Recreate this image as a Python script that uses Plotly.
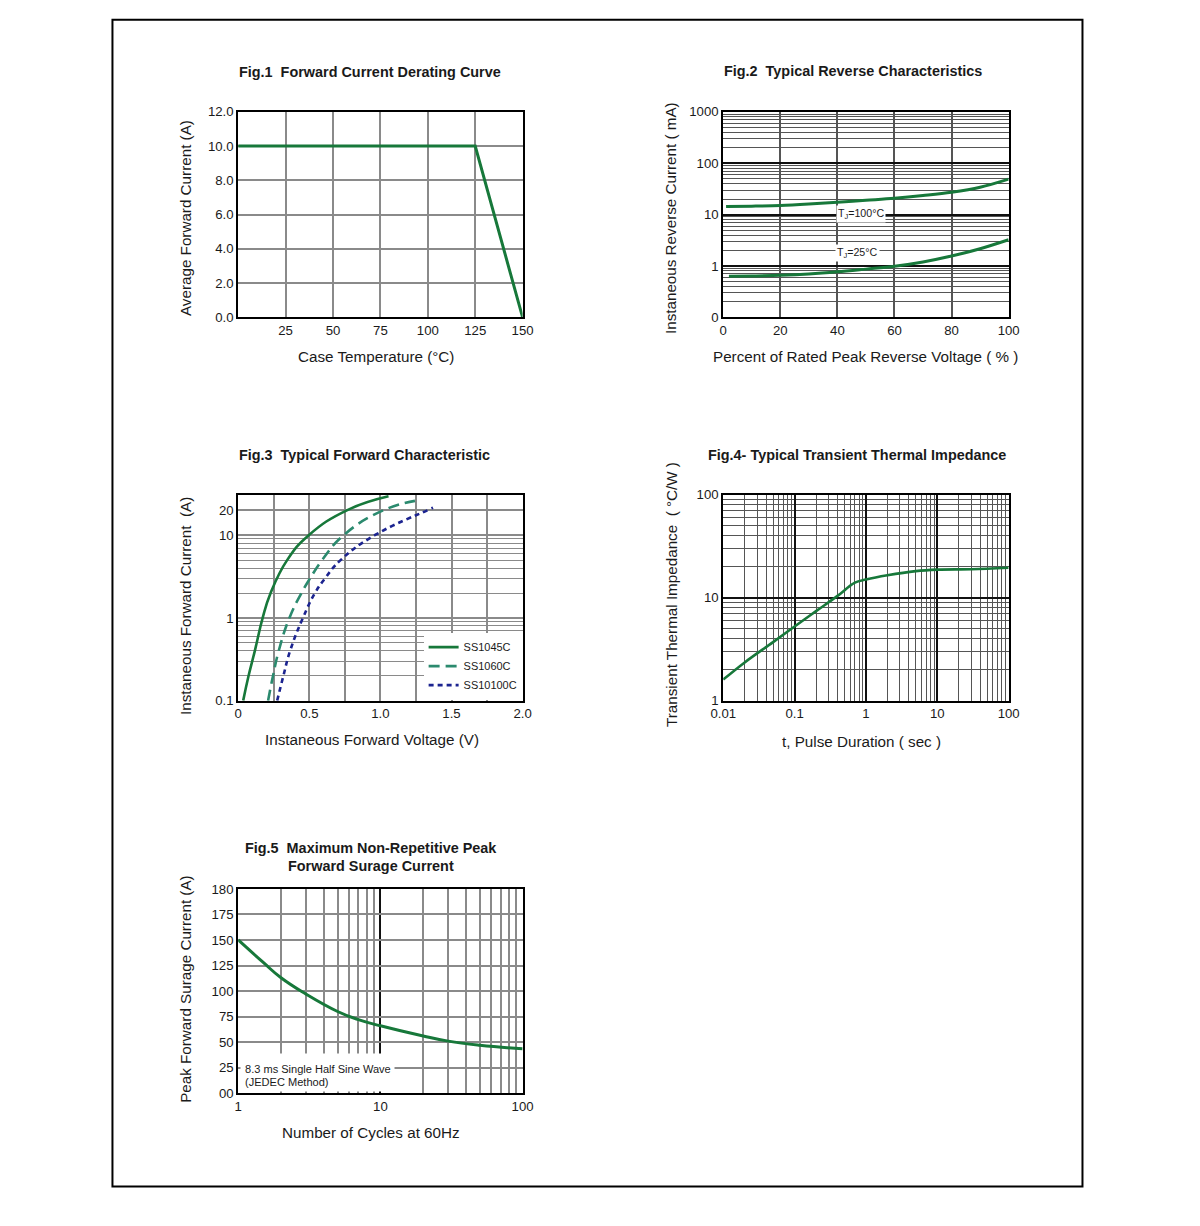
import plotly.graph_objects as go

FONT = "Liberation Sans, Arial, sans-serif"
GREEN = "#17783a"
TEAL = "#2b8a6e"
NAVY = "#1c2490"
TXT = "#1a1a1a"
GRID = "#8a8a8a"
DARKGRID = "#555555"

# ---------------- Fig.1 data ----------------
fig1_temp = [0, 125, 150]
fig1_current = [10.0, 10.0, 0.0]
fig1_xticks = [25, 50, 75, 100, 125, 150]
fig1_yticks = [0, 2, 4, 6, 8, 10, 12]
fig1_ylabels = ["0.0", "2.0", "4.0", "6.0", "8.0", "10.0", "12.0"]

# ---------------- Fig.2 data ----------------
fig2_pct_100 = [1, 10, 20, 30, 40, 50, 60, 70, 80, 90, 100]
fig2_ir_100c = [14.4, 14.6, 15.0, 16.0, 17.4, 19.0, 20.8, 23.5, 27.2, 34.0, 49.0]
fig2_pct_25 = [2, 10, 20, 30, 40, 50, 60, 70, 80, 90, 100]
fig2_ir_25c = [0.63, 0.64, 0.66, 0.70, 0.77, 0.87, 0.99, 1.20, 1.56, 2.17, 3.25]
fig2_xticks = [0, 20, 40, 60, 80, 100]
fig2_yticks = [0.1, 1, 10, 100, 1000]
fig2_ylabels = ["0", "1", "10", "100", "1000"]

# ---------------- Fig.3 data ----------------
fig3_i_1045 = [0.1, 0.2, 0.4, 1, 2, 5, 10, 20, 29.5]
fig3_v_1045 = [0.035, 0.073, 0.117, 0.172, 0.228, 0.344, 0.496, 0.764, 1.057]
fig3_i_1060 = [0.1, 0.2, 0.4, 1, 2, 3, 5, 10, 20, 26]
fig3_v_1060 = [0.21, 0.245, 0.285, 0.36, 0.445, 0.505, 0.59, 0.741, 1.02, 1.243]
fig3_i_10100 = [0.1, 0.2, 0.4, 1, 2, 3, 5, 10, 20, 21.5]
fig3_v_10100 = [0.274, 0.318, 0.365, 0.455, 0.54, 0.61, 0.72, 0.96, 1.33, 1.37]
fig3_xticks = [0, 0.5, 1.0, 1.5, 2.0]
fig3_xlabels = ["0", "0.5", "1.0", "1.5", "2.0"]
fig3_yticks = [0.1, 1, 10, 20]
fig3_ylabels = ["0.1", "1", "10", "20"]

# ---------------- Fig.4 data ----------------
fig4_t = [0.01, 0.02, 0.05, 0.1, 0.2, 0.4, 0.7, 1, 2, 5, 10, 30, 100]
fig4_z = [1.6, 2.35, 3.7, 5.25, 7.4, 10.4, 14.0, 15.0, 16.5, 18.1, 18.7, 18.9, 19.5]
fig4_xticks = [0.01, 0.1, 1, 10, 100]
fig4_xlabels = ["0.01", "0.1", "1", "10", "100"]
fig4_yticks = [1, 10, 100]

# ---------------- Fig.5 data ----------------
fig5_cycles = [1, 1.5, 2, 3, 5, 7, 10, 20, 30, 50, 100]
fig5_current = [150, 128, 113, 97, 80, 72, 66, 56, 51, 47, 43.5]
fig5_xticks = [1, 10, 100]
fig5_yticks = [0, 25, 50, 75, 100, 125, 150, 175, 200]
fig5_ylabels = ["00", "25", "50", "75", "100", "125", "150", "175", "180"]


def log_minor(decades):
    return [m * 10 ** d for d in decades for m in range(2, 10)]


W, H = 1200, 1226
# empirical mapping between layout pixels and the captured picture
SX, BX = 0.982, 11.5
SY, BY = 0.988, 6.3
OFF = 8
FS = 1 / 0.985  # font compensation for the slight capture scaling


def px2x(px):
    return ((px - BX) / SX - OFF) / W


def px2y(py):
    return 1 - ((py - BY) / SY - OFF) / H


def dx(px0, px1):
    return [px2x(px0), px2x(px1)]


def dy(py_top, py_bot):
    return [px2y(py_bot), px2y(py_top)]


fig = go.Figure()

fig.add_trace(go.Scatter(x=fig1_temp, y=fig1_current, mode="lines",
                         line=dict(color=GREEN, width=3), xaxis="x", yaxis="y",
                         showlegend=False))
fig.add_trace(go.Scatter(x=fig2_pct_100, y=fig2_ir_100c, mode="lines",
                         line=dict(color=GREEN, width=3, shape="spline"),
                         xaxis="x2", yaxis="y2", showlegend=False))
fig.add_trace(go.Scatter(x=fig2_pct_25, y=fig2_ir_25c, mode="lines",
                         line=dict(color=GREEN, width=3, shape="spline"),
                         xaxis="x2", yaxis="y2", showlegend=False))
fig.add_trace(go.Scatter(x=fig3_v_1045, y=fig3_i_1045, mode="lines", name="SS1045C",
                         line=dict(color=GREEN, width=2.6, shape="spline", smoothing=1.3),
                         xaxis="x3", yaxis="y3"))
fig.add_trace(go.Scatter(x=fig3_v_1060, y=fig3_i_1060, mode="lines", name="SS1060C",
                         line=dict(color=TEAL, width=2.6, dash="11px,6px", shape="spline",
                                   smoothing=1.3),
                         xaxis="x3", yaxis="y3"))
fig.add_trace(go.Scatter(x=fig3_v_10100, y=fig3_i_10100, mode="lines", name="SS10100C",
                         line=dict(color=NAVY, width=2.6, dash="5px,4px", shape="spline",
                                   smoothing=1.3),
                         xaxis="x3", yaxis="y3"))
fig.add_trace(go.Scatter(x=fig4_t, y=fig4_z, mode="lines",
                         line=dict(color=GREEN, width=2.6, shape="spline"),
                         xaxis="x4", yaxis="y4", showlegend=False))
fig.add_trace(go.Scatter(x=fig5_cycles, y=fig5_current, mode="lines",
                         line=dict(color=GREEN, width=3, shape="spline", smoothing=1.3),
                         xaxis="x5", yaxis="y5", showlegend=False))

tickfont = dict(family=FONT, size=13 * FS, color=TXT)
frame = dict(showline=True, linecolor="black", linewidth=2, mirror=True,
             ticks="", zeroline=False, tickfont=tickfont, fixedrange=True)

left_x = dx(237, 522)
right_x = dx(723, 1009)
row1_y = dy(111, 316.7)
row2_y = dy(494, 700)
row3_y = dy(888.3, 1092.7)

fig.update_layout(
    width=W, height=H, margin=dict(l=0, r=0, t=0, b=0),
    paper_bgcolor="white", plot_bgcolor="white",
    font=dict(family=FONT, color=TXT),
    # Fig.1
    xaxis=dict(domain=left_x, anchor="y", range=[0, 150], tickvals=fig1_xticks,
               showgrid=True, gridcolor=GRID, gridwidth=2, **frame),
    yaxis=dict(domain=row1_y, anchor="x", range=[0, 12], tickvals=fig1_yticks,
               ticktext=fig1_ylabels, showgrid=True, gridcolor=GRID, gridwidth=2, **frame),
    # Fig.2
    xaxis2=dict(domain=right_x, anchor="y2", range=[0, 100], tickvals=fig2_xticks,
                showgrid=True, gridcolor=DARKGRID, gridwidth=1.5, **frame),
    yaxis2=dict(domain=row1_y, anchor="x2", type="log", range=[-1, 3], tickvals=fig2_yticks,
                ticktext=fig2_ylabels, showgrid=True, gridcolor="#111111", gridwidth=2,
                minor=dict(tickvals=log_minor([-1, 0, 1, 2]), showgrid=True,
                           gridcolor=DARKGRID, gridwidth=1), **frame),
    # Fig.3
    xaxis3=dict(domain=left_x, anchor="y3", range=[0, 2], tickvals=fig3_xticks,
                ticktext=fig3_xlabels, showgrid=True, gridcolor=GRID, gridwidth=2,
                minor=dict(tickvals=[0.25, 0.75, 1.25, 1.75], showgrid=True,
                           gridcolor=GRID, gridwidth=2), **frame),
    yaxis3=dict(domain=row2_y, anchor="x3", type="log", range=[-1, 1.49],
                tickvals=fig3_yticks, ticktext=fig3_ylabels, showgrid=True,
                gridcolor=GRID, gridwidth=1.5,
                minor=dict(tickvals=log_minor([-1, 0]), showgrid=True,
                           gridcolor=GRID, gridwidth=1.2), **frame),
    # Fig.4
    xaxis4=dict(domain=right_x, anchor="y4", type="log", range=[-2, 2],
                tickvals=fig4_xticks, ticktext=fig4_xlabels, showgrid=True,
                gridcolor="#111111", gridwidth=2,
                minor=dict(tickvals=log_minor([-2, -1, 0, 1]), showgrid=True,
                           gridcolor=DARKGRID, gridwidth=1.2), **frame),
    yaxis4=dict(domain=row2_y, anchor="x4", type="log", range=[0, 2],
                tickvals=fig4_yticks, showgrid=True, gridcolor="#111111", gridwidth=2,
                minor=dict(tickvals=log_minor([0, 1]), showgrid=True,
                           gridcolor=DARKGRID, gridwidth=1.2), **frame),
    # Fig.5
    xaxis5=dict(domain=left_x, anchor="y5", type="log", range=[0, 2],
                tickvals=fig5_xticks, showgrid=True, gridcolor="#111111", gridwidth=2,
                minor=dict(tickvals=log_minor([0, 1]), showgrid=True,
                           gridcolor=GRID, gridwidth=1.5), **frame),
    yaxis5=dict(domain=row3_y, anchor="x5", range=[0, 200], tickvals=fig5_yticks,
                ticktext=fig5_ylabels, showgrid=True, gridcolor=GRID, gridwidth=1.5, **frame),
    legend=dict(x=px2x(522), xanchor="right", y=px2y(699), yanchor="bottom",
                bgcolor="white", borderwidth=0,
                font=dict(family=FONT, size=10.8 * FS, color=TXT),
                itemwidth=30, tracegroupgap=0),
)

# page border
fig.add_shape(type="rect", xref="paper", yref="paper", x0=px2x(111), x1=px2x(1083),
              y0=px2y(1186), y1=px2y(19), line=dict(color="black", width=2),
              fillcolor="rgba(0,0,0,0)", layer="above")


def ann(text, px, py, size=15, bold=False, angle=0, xanchor="center", **kw):
    if bold:
        text = "<b>" + text + "</b>"
    fig.add_annotation(text=text, x=px2x(px), y=px2y(py), xref="paper", yref="paper",
                       showarrow=False, textangle=angle, xanchor=xanchor, yanchor="middle",
                       font=dict(family=FONT, size=size * FS, color=TXT), **kw)


# titles
TS = 14.2
ann("Fig.1  Forward Current Derating Curve", 369, 71, size=TS, bold=True)
ann("Fig.2  Typical Reverse Characteristics", 853, 70, size=TS, bold=True)
ann("Fig.3  Typical Forward Characteristic", 364, 454, size=TS, bold=True)
ann("Fig.4- Typical Transient Thermal Impedance", 857, 454, size=TS, bold=True)
ann("Fig.5  Maximum Non-Repetitive Peak", 370, 847, size=TS, bold=True)
ann("Forward Surage Current", 370, 865, size=TS, bold=True)

# axis titles
ann("Case Temperature (°C)", 375, 356)
ann("Percent of Rated Peak Reverse Voltage ( % )", 866, 356)
ann("Instaneous Forward Voltage (V)", 371, 739)
ann("t, Pulse Duration ( sec )", 862, 741)
ann("Number of Cycles at 60Hz", 370, 1132)
ann("Average Forward Current (A)", 184, 217, angle=-90)
ann("Instaneous Reverse Current ( mA)", 670, 217, angle=-90)
ann("Instaneous Forward Current  (A)", 184, 605, angle=-90)
ann("Transient Thermal Impedance  ( °C/W )", 671, 594, angle=-90)
ann("Peak Forward Surage Current (A)", 184, 988, angle=-90)

# curve labels in Fig.2
fig.add_annotation(text="T<sub>J</sub>=100°C", x=48.3, y=1.02, xref="x2", yref="y2",
                   showarrow=False, bgcolor="white", borderpad=1,
                   font=dict(family=FONT, size=10.5 * FS, color=TXT))
fig.add_annotation(text="T<sub>J</sub>=25°C", x=47.2, y=0.247, xref="x2", yref="y2",
                   showarrow=False, bgcolor="white", borderpad=1,
                   font=dict(family=FONT, size=10.5 * FS, color=TXT))

# white box behind the Fig.5 note (hides grid under it)
fig.add_annotation(text="&nbsp;", x=px2x(238.5), y=px2y(1091.5), xref="paper", yref="paper",
                   xanchor="left", yanchor="bottom", width=153, height=37,
                   bgcolor="white", borderpad=0, showarrow=False,
                   font=dict(family=FONT, size=10, color="white"))
# note in Fig.5
ann("8.3 ms Single Half Sine Wave", 241.5, 1068, size=10.9, xanchor="left")
ann("(JEDEC Method)", 241.5, 1081, size=10.9, xanchor="left")

fig.write_html("out.html")
